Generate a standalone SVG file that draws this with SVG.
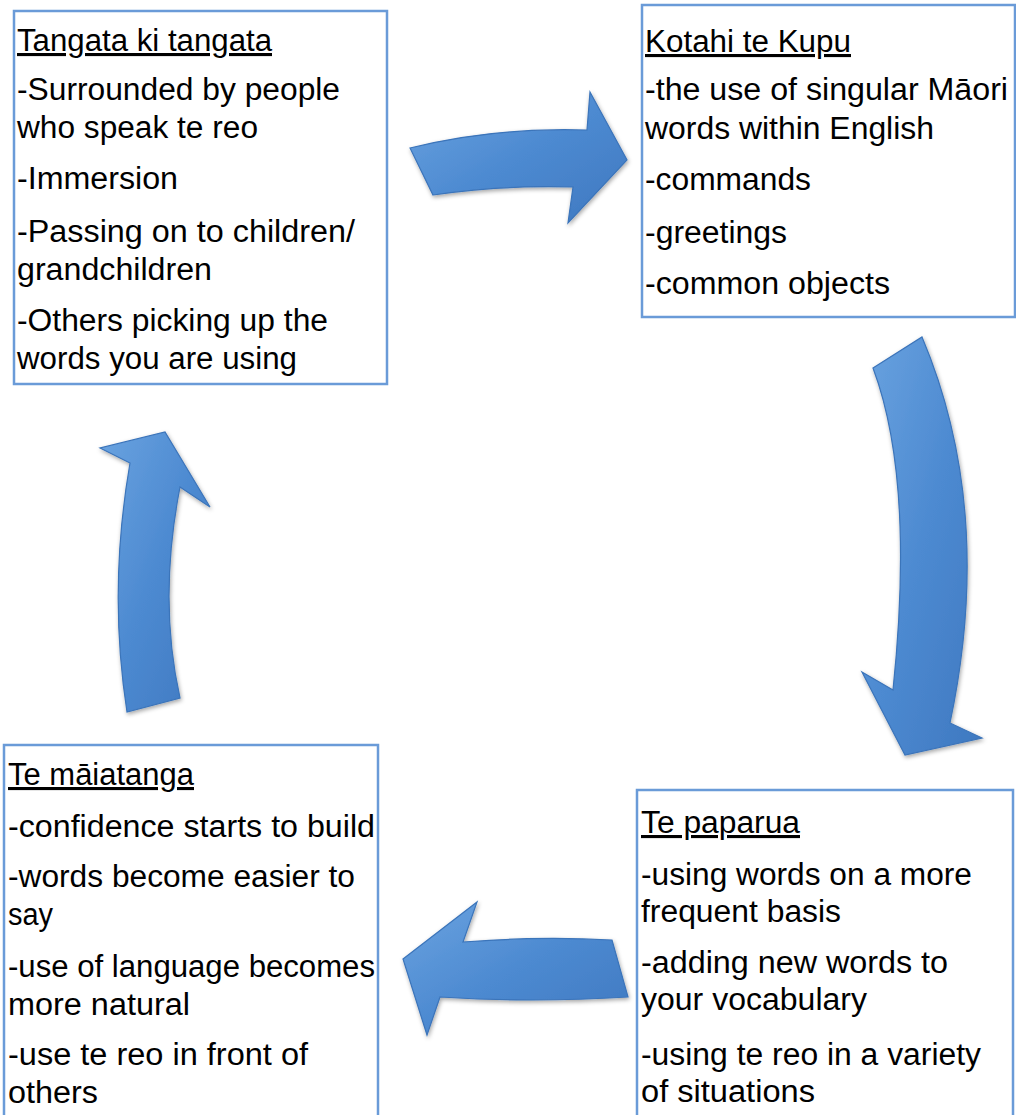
<svg xmlns="http://www.w3.org/2000/svg" width="1016" height="1115" viewBox="0 0 1016 1115">
<style>
.box{fill:#fff;stroke:#6a9bd8;stroke-width:2.5}
.t{font-family:"Liberation Sans",Arial,sans-serif;font-size:31px;fill:#000}
.h{text-decoration:underline}
.arr{fill:url(#g);stroke:#3b74ba;stroke-width:1.2;filter:url(#sh)}
</style>
<defs>
<linearGradient id="g" x1="0" y1="0" x2="1" y2="1">
<stop offset="0" stop-color="#6aa3e0"/>
<stop offset="0.5" stop-color="#4d8ad1"/>
<stop offset="1" stop-color="#3e78c0"/>
</linearGradient>
<filter id="sh" x="-20%" y="-20%" width="140%" height="140%">
<feDropShadow dx="1" dy="2" stdDeviation="2" flood-color="#000" flood-opacity="0.35"/>
</filter>
</defs>
<g id="connectors">
<path class="arr" d="M410,148 Q495,127 587,130 L590,92 L627,160 L568,223 L573,187 Q500,185 433,195 Z"/>
<path class="arr" d="M873,368 Q915,480 893,690 L862,672 L905,755 L982,738 L950,723 Q995,510 922,337 Z"/>
<path class="arr" d="M612,940 Q540,936 463,942 L477,902 L403,959 L427,1035 L440,997 Q530,1003 628,997 Z"/>
<path class="arr" d="M127,712 Q108,590 130,463 L100,448 L165,432 L210,507 L180,487 Q158,600 180,698 Z"/>
</g>
<g id="node-tangata">
<rect class="box" x="14" y="11" width="373" height="373"/>
<text class="t h" x="17" y="51" textLength="255" lengthAdjust="spacingAndGlyphs">Tangata ki tangata</text>
<text class="t" x="17" y="100" textLength="323" lengthAdjust="spacingAndGlyphs">-Surrounded by people</text>
<text class="t" x="17" y="138" textLength="241" lengthAdjust="spacingAndGlyphs">who speak te reo</text>
<text class="t" x="17" y="189" textLength="161" lengthAdjust="spacingAndGlyphs">-Immersion</text>
<text class="t" x="17" y="242" textLength="338" lengthAdjust="spacingAndGlyphs">-Passing on to children/</text>
<text class="t" x="17" y="280" textLength="195" lengthAdjust="spacingAndGlyphs">grandchildren</text>
<text class="t" x="17" y="331" textLength="311" lengthAdjust="spacingAndGlyphs">-Others picking up the</text>
<text class="t" x="17" y="369" textLength="280" lengthAdjust="spacingAndGlyphs">words you are using</text>
</g>
<g id="node-kotahi">
<rect class="box" x="642" y="5" width="373" height="312"/>
<text class="t h" x="645" y="52" textLength="206" lengthAdjust="spacingAndGlyphs">Kotahi te Kupu</text>
<text class="t" x="645" y="100" textLength="363" lengthAdjust="spacingAndGlyphs">-the use of singular Māori</text>
<text class="t" x="645" y="139" textLength="289" lengthAdjust="spacingAndGlyphs">words within English</text>
<text class="t" x="645" y="190" textLength="166" lengthAdjust="spacingAndGlyphs">-commands</text>
<text class="t" x="645" y="243" textLength="142" lengthAdjust="spacingAndGlyphs">-greetings</text>
<text class="t" x="645" y="294" textLength="245" lengthAdjust="spacingAndGlyphs">-common objects</text>
</g>
<g id="node-paparua">
<rect class="box" x="637" y="790" width="376" height="340"/>
<text class="t h" x="641" y="833" textLength="159" lengthAdjust="spacingAndGlyphs">Te paparua</text>
<text class="t" x="641" y="885" textLength="331" lengthAdjust="spacingAndGlyphs">-using words on a more</text>
<text class="t" x="641" y="922" textLength="200" lengthAdjust="spacingAndGlyphs">frequent basis</text>
<text class="t" x="641" y="973" textLength="307" lengthAdjust="spacingAndGlyphs">-adding new words to</text>
<text class="t" x="641" y="1010" textLength="226" lengthAdjust="spacingAndGlyphs">your vocabulary</text>
<text class="t" x="641" y="1065" textLength="340" lengthAdjust="spacingAndGlyphs">-using te reo in a variety</text>
<text class="t" x="641" y="1102" textLength="174" lengthAdjust="spacingAndGlyphs">of situations</text>
</g>
<g id="node-maiatanga">
<rect class="box" x="4" y="745" width="374" height="385"/>
<text class="t h" x="8" y="785" textLength="186" lengthAdjust="spacingAndGlyphs">Te māiatanga</text>
<text class="t" x="8" y="837" textLength="367" lengthAdjust="spacingAndGlyphs">-confidence starts to build</text>
<text class="t" x="8" y="887" textLength="347" lengthAdjust="spacingAndGlyphs">-words become easier to</text>
<text class="t" x="8" y="925" textLength="45" lengthAdjust="spacingAndGlyphs">say</text>
<text class="t" x="8" y="977" textLength="367" lengthAdjust="spacingAndGlyphs">-use of language becomes</text>
<text class="t" x="8" y="1015" textLength="182" lengthAdjust="spacingAndGlyphs">more natural</text>
<text class="t" x="8" y="1065" textLength="300" lengthAdjust="spacingAndGlyphs">-use te reo in front of</text>
<text class="t" x="8" y="1103" textLength="90" lengthAdjust="spacingAndGlyphs">others</text>
</g>
</svg>
